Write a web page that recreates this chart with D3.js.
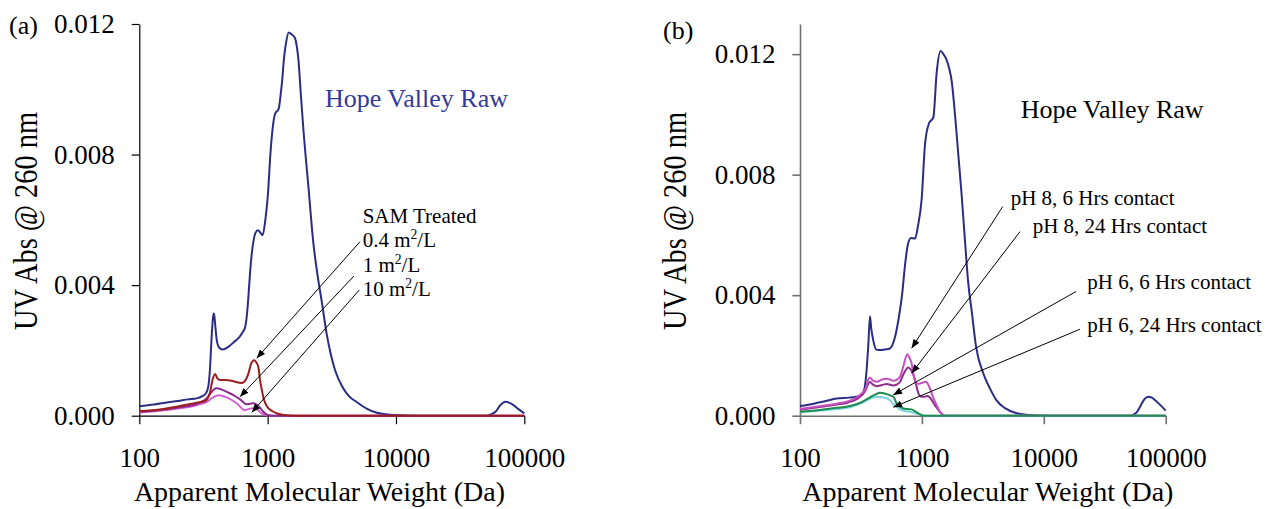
<!DOCTYPE html>
<html>
<head>
<meta charset="utf-8">
<script src="https://cdn.jsdelivr.net/npm/d3@7"></script>
<style>
  body { margin: 0; background: #fff; }
  svg text { font-family: "Liberation Serif", "Times New Roman", serif; fill: #000; }
</style>
</head>
<body>
<svg id="chart" width="1265" height="509"></svg>
<script>
// axis ticks shared by both panels
const mwTicks = [100, 1000, 10000, 100000];
const absTicks = [0, 0.004, 0.008, 0.012];

// panel (a): [apparent MW (Da), UV abs @ 260 nm]
const rawA = [[100,0.00029],[130,0.00034],[160,0.0004],[200,0.00045],[240,0.0005],[280,0.00053],[310,0.0006],[330,0.00068],[345,0.0009],[355,0.0014],[366,0.0024],[375,0.003],[382,0.00313],[390,0.0028],[402,0.0023],[420,0.00208],[445,0.00203],[490,0.0021],[547,0.00226],[600,0.0024],[642,0.00257],[667,0.0027],[690,0.0031],[707,0.0036],[730,0.0044],[754,0.005],[780,0.0054],[804,0.0056],[841,0.00568],[880,0.0056],[914,0.00553],[960,0.006],[1006,0.0068],[1050,0.008],[1087,0.0087],[1143,0.00925],[1219,0.0094],[1260,0.0098],[1300,0.0103],[1345,0.011],[1387,0.01139],[1459,0.01174],[1540,0.01168],[1628,0.01158],[1690,0.0113],[1738,0.0109],[1810,0.0099],[1897,0.0088],[2080,0.007],[2270,0.0053],[2450,0.0043],[2640,0.0035],[2886,0.0025],[3100,0.0019],[3350,0.0014],[3800,0.0009],[4300,0.0006],[4940,0.00042],[5900,0.00022],[7000,0.0001],[8000,0.00005],[10000,0.00002],[15000,0],[50000,0],[55000,0.00004],[60000,0.00013],[65000,0.00032],[71000,0.00043],[79000,0.00037],[90000,0.0002],[100000,0.00007]];
const sam04 = [[100,0.00014],[150,0.0002],[200,0.00028],[280,0.0004],[325,0.00045],[355,0.0007],[372,0.0011],[389,0.00128],[405,0.00115],[426,0.00109],[470,0.00109],[509,0.00108],[560,0.00104],[620,0.001],[660,0.00105],[707,0.00128],[745,0.0016],[784,0.0017],[820,0.00162],[846,0.0015],[872,0.0011],[900,0.0008],[935,0.0005],[984,0.0003],[1077,0.00015],[1200,0.00006],[1350,0.00002],[1600,0],[100000,0]];
const sam1 = [[100,0.00012],[150,0.00018],[200,0.00025],[280,0.00036],[335,0.00053],[370,0.00075],[396,0.00084],[440,0.0008],[480,0.00073],[541,0.00063],[610,0.0005],[687,0.00035],[740,0.00037],[775,0.00038],[846,0.0003],[925,0.00012],[1000,0.00002],[1100,0],[100000,0]];
const sam10 = [[100,0.0001],[150,0.00016],[200,0.00022],[280,0.00032],[335,0.00042],[375,0.00056],[413,0.00063],[480,0.00056],[574,0.00038],[667,0.00017],[720,0.00021],[760,0.00023],[822,0.0002],[899,0.00007],[980,0.00001],[1100,0],[100000,0]];

// panel (b)
const rawB = [[100,0.00032],[130,0.0004],[160,0.00048],[200,0.00057],[250,0.0006],[290,0.00063],[320,0.00068],[338,0.0009],[350,0.0014],[364,0.0024],[375,0.0033],[384,0.0029],[399,0.0025],[420,0.0022],[440,0.00218],[500,0.0022],[546,0.00223],[601,0.0026],[649,0.0033],[687,0.004],[727,0.005],[769,0.0057],[814,0.0059],[878,0.00588],[929,0.0063],[996,0.0072],[1060,0.009],[1143,0.0097],[1241,0.0099],[1323,0.0114],[1426,0.0121],[1500,0.012],[1597,0.0118],[1680,0.0115],[1756,0.0111],[1868,0.01],[1995,0.0086],[2121,0.0073],[2257,0.0058],[2388,0.0045],[2576,0.0034],[2779,0.0023],[3191,0.0014],[3622,0.0009],[4110,0.0005],[4808,0.00025],[5990,0.00008],[7710,0.00002],[11200,0],[50000,0],[54000,0.00003],[58000,0.00012],[62600,0.00035],[67000,0.00055],[72000,0.00063],[77000,0.0006],[81500,0.00052],[90000,0.00036],[100000,0.00017]];
const ph8h6 = [[100,0.00022],[150,0.00032],[200,0.0004],[249,0.00048],[312,0.0007],[345,0.0009],[362,0.00118],[375,0.00127],[395,0.00117],[426,0.00113],[470,0.0012],[514,0.00123],[550,0.0012],[582,0.00116],[625,0.0012],[661,0.00129],[700,0.0016],[759,0.00204],[795,0.0019],[824,0.00173],[850,0.0014],[877,0.00118],[920,0.00106],[964,0.00107],[1020,0.0011],[1079,0.00113],[1120,0.00105],[1164,0.00091],[1240,0.0006],[1320,0.00035],[1410,0.00012],[1499,0.00002],[1600,0],[100000,0]];
const ph8h24 = [[100,0.0002],[150,0.0003],[200,0.00037],[249,0.00044],[312,0.00064],[345,0.00084],[362,0.00105],[375,0.00112],[400,0.00102],[426,0.00098],[470,0.00102],[514,0.00105],[582,0.001],[625,0.00104],[661,0.00112],[710,0.0014],[774,0.0016],[820,0.0015],[863,0.00129],[900,0.001],[936,0.00074],[980,0.00064],[1028,0.00063],[1109,0.00065],[1205,0.00052],[1290,0.00032],[1365,0.00019],[1450,0.00007],[1549,0],[100000,0]];
const ph6h6 = [[100,0.00013],[150,0.0002],[200,0.00026],[257,0.00032],[312,0.00043],[375,0.00061],[415,0.0007],[453,0.00076],[510,0.00072],[560,0.00066],[590,0.0006],[621,0.0004],[660,0.0003],[705,0.00024],[760,0.00022],[824,0.00021],[880,0.00014],[935,0.00008],[990,0.00002],[1050,0],[100000,0]];
const ph6h24 = [[100,0.00011],[150,0.00017],[200,0.00022],[257,0.00028],[312,0.0004],[375,0.00056],[426,0.00063],[470,0.00061],[514,0.00058],[550,0.0005],[582,0.00039],[620,0.0003],[661,0.00021],[730,0.00015],[800,0.00013],[880,0.00008],[964,0.00005],[1050,0.00001],[1150,0],[100000,0]];

const samLabels = ["SAM Treated", "0.4 m²/L", "1 m²/L", "10 m²/L"];
const phLabels = ["pH 8, 6 Hrs contact", "pH 8, 24 Hrs contact", "pH 6, 6 Hrs contact", "pH 6, 24 Hrs contact"];

const svg = d3.select("#chart");

svg.append("defs").append("marker")
  .attr("id", "arrow")
  .attr("viewBox", "0 0 10 8")
  .attr("refX", 10).attr("refY", 4)
  .attr("markerWidth", 9).attr("markerHeight", 7)
  .attr("markerUnits", "userSpaceOnUse")
  .attr("orient", "auto")
  .append("path").attr("d", "M0,0L10,4L0,8z").attr("fill", "#000");

// writes "m²" with a raised small 2
function richText(sel, str, size) {
  const parts = str.split("²");
  sel.append("tspan").text(parts[0]);
  if (parts.length > 1) {
    sel.append("tspan").attr("font-size", size * 0.65).attr("dy", -size * 0.38).text("2");
    sel.append("tspan").attr("dy", size * 0.38).text(parts[1]);
  }
}

function drawPanel(p) {
  const g = svg.append("g");
  const x = d3.scaleLog().domain([100, 100000]).range(p.xRange);
  const y = d3.scaleLinear().domain([0, p.yMax]).range([415.7, 24]);

  const xAxis = g.append("g")
    .attr("transform", `translate(0,${y(0)})`)
    .call(d3.axisBottom(x).tickValues(mwTicks).tickFormat(d3.format("d"))
      .tickSize(8.5).tickSizeOuter(0).tickPadding(24));
  const yAxis = g.append("g")
    .attr("transform", `translate(${x(100)},0)`)
    .call(d3.axisLeft(y).tickValues(absTicks).tickFormat(d3.format(".3f"))
      .tickSize(7.6).tickSizeOuter(0).tickPadding(17));

  [xAxis, yAxis].forEach(a => {
    a.attr("font-family", null).attr("font-size", 27);
    a.selectAll(".domain, .tick line").attr("stroke", p.axisColor).attr("stroke-width", p.axisWidth);
    a.selectAll(".tick text").attr("fill", "#000");
  });

  const line = d3.line().x(d => x(d[0])).y(d => y(d[1])).curve(d3.curveMonotoneX);
  p.series.forEach(s => {
    g.append("path").datum(s.data)
      .attr("fill", "none").attr("stroke", s.color).attr("stroke-width", 2)
      .attr("stroke-linejoin", "round").attr("d", line);
  });

  // titles
  g.append("text").attr("x", p.tag[0]).attr("y", p.tag[1]).attr("font-size", 26).text(p.tagText);
  g.append("text").attr("x", p.xTitleX).attr("y", 501).attr("text-anchor", "middle")
    .attr("font-size", 28).text("Apparent Molecular Weight (Da)");
  g.append("text").attr("transform", `translate(${p.yTitleX},221) rotate(-90)`)
    .attr("text-anchor", "middle").attr("font-size", 33)
    .attr("textLength", 218).attr("lengthAdjust", "spacingAndGlyphs")
    .text("UV Abs @ 260 nm");
  g.append("text").attr("x", x(p.hope.at[0])).attr("y", y(p.hope.at[1]))
    .attr("font-size", 26).style("fill", p.hope.color).text("Hope Valley Raw");

  // annotations
  p.labels.forEach((t, i) => {
    const at = p.labelAt[i];
    g.append("text").attr("x", x(at[0])).attr("y", y(at[1])).attr("font-size", 21)
      .call(sel => richText(sel, t, 21));
  });
  p.arrows.forEach(a => {
    g.append("line")
      .attr("x1", x(a[0])).attr("y1", y(a[1]))
      .attr("x2", x(a[2])).attr("y2", y(a[3]))
      .attr("stroke", "#000").attr("stroke-width", 1)
      .attr("marker-end", "url(#arrow)");
  });
}

drawPanel({
  xRange: [139.3, 524.3], yMax: 0.012,
  axisColor: "#000", axisWidth: 1.2,
  tag: [9, 34], tagText: "(a)",
  xTitleX: 319.5, yTitleX: 37,
  hope: { at: [2800, 0.00947], color: "#34399a" },
  series: [
    { data: rawA, color: "#2b2d84" },
    { data: sam10, color: "#d35fcf" },
    { data: sam1, color: "#8c2c8c" },
    { data: sam04, color: "#9c1c1f" }
  ],
  labels: samLabels,
  labelAt: [[5500, 0.00591], [5500, 0.00518], [5500, 0.00441], [5500, 0.00367]],
  arrows: [[5240, 0.00533, 822, 0.00176], [4710, 0.00428, 609, 0.00058], [5175, 0.00385, 752, 0.0001]]
});

drawPanel({
  xRange: [800, 1165.7], yMax: 0.013,
  axisColor: "#707070", axisWidth: 1.6,
  tag: [663, 39], tagText: "(b)",
  xTitleX: 987.8, yTitleX: 686,
  hope: { at: [6463, 0.00987], color: "#000" },
  series: [
    { data: rawB, color: "#2b2d84" },
    { data: ph8h24, color: "#8e2c8e" },
    { data: ph8h6, color: "#c650be" },
    { data: ph6h24, color: "#78d2e2" },
    { data: ph6h6, color: "#1f8c4e" }
  ],
  labels: phLabels,
  labelAt: [[5346, 0.00699], [8110, 0.00605], [22750, 0.0042], [22750, 0.00279]],
  arrows: [[4603, 0.00694, 824, 0.00224], [6383, 0.00611, 824, 0.00141], [18370, 0.00412, 582, 0.00069], [19800, 0.00287, 582, 0.00028]]
});
</script>
</body>
</html>
